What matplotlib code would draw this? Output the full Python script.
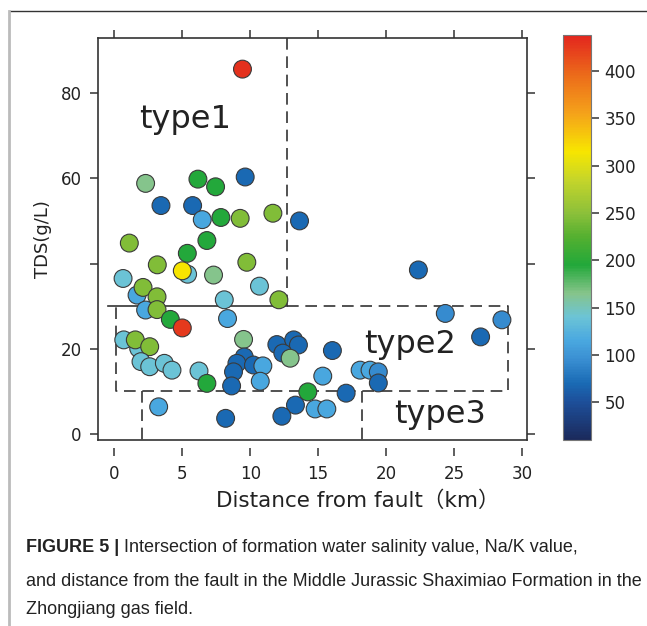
import numpy as np
import matplotlib
matplotlib.use("Agg")
import matplotlib.pyplot as plt
from matplotlib.colors import LinearSegmentedColormap, Normalize
from matplotlib.lines import Line2D

plt.rcParams['font.family'] = ['DejaVu Sans', 'Noto Sans CJK SC']

# distance from fault (km), TDS (g/L), Na/K value
dist = [9.43, 2.30, 6.15, 7.45, 9.63, 3.43, 5.76, 6.47, 7.84, 9.26,
        11.67, 13.63, 1.10, 6.81, 5.37, 3.16, 5.39, 5.00, 7.30, 9.75,
        0.64, 1.67, 2.11, 3.14, 10.68, 8.09, 12.11, 2.30, 3.14, 4.12,
        5.00, 8.33, 22.38,
        0.69, 1.79, 1.54, 2.60, 1.96, 2.60, 3.68, 4.24, 6.23, 6.81,
        9.51, 9.56, 9.02, 8.77, 8.63, 10.24, 10.93, 10.74, 11.96, 13.20,
        13.55, 12.40, 12.94, 16.05, 15.34, 18.09, 18.82, 19.43, 19.43, 24.36,
        28.53, 26.96,
        14.24, 17.06, 13.33, 12.33, 14.78, 15.64, 3.26, 8.19]
tds = [85.6, 58.8, 59.8, 58.0, 60.3, 53.6, 53.6, 50.3, 50.8, 50.6,
       51.8, 50.0, 44.8, 45.4, 42.4, 39.7, 37.5, 38.3, 37.3, 40.3,
       36.5, 32.6, 34.4, 32.2, 34.7, 31.5, 31.5, 29.1, 29.2, 26.9,
       24.9, 27.1, 38.5,
       22.1, 20.1, 22.1, 20.5, 17.0, 15.8, 16.6, 15.0, 14.8, 11.9,
       22.2, 18.1, 16.6, 14.6, 11.3, 16.2, 16.0, 12.4, 21.0, 22.1,
       20.9, 19.0, 17.8, 19.6, 13.6, 15.0, 15.0, 14.6, 12.0, 28.3,
       26.8, 22.8,
       9.9, 9.6, 6.8, 4.2, 5.9, 5.9, 6.4, 3.7]
nak = [430, 165, 195, 195, 70, 70, 70, 115, 195, 245,
       245, 70, 245, 195, 195, 245, 140, 315, 165, 245,
       140, 115, 245, 245, 140, 140, 245, 115, 245, 195,
       425, 115, 70,
       140, 140, 245, 245, 140, 140, 140, 140, 140, 195,
       165, 70, 70, 70, 70, 70, 115, 115, 70, 70,
       70, 70, 165, 70, 115, 115, 115, 92, 70, 92,
       92, 70,
       195, 70, 70, 70, 115, 115, 115, 70]

x_ticks = [0, 5, 10, 15, 20, 25, 30]
y_ticks = [0, 20, 40, 60, 80]
y_ticklabels = ['0', '20', '', '60', '80']
cb_ticks = [50, 100, 150, 200, 250, 300, 350, 400]

stops = [(10, '#1b2a5c'), (50, '#1d4f9a'), (70, '#1a6bb5'), (95, '#3a8fd2'),
         (115, '#4aa8e0'), (140, '#6cc4d6'), (165, '#86c48a'), (195, '#22a83a'),
         (225, '#55b030'), (250, '#8cc03a'), (285, '#c5d52a'), (315, '#f7e600'),
         (355, '#f5a31a'), (395, '#ec6d1a'), (438, '#e3261e')]
vmin, vmax = 10, 438
cmap = LinearSegmentedColormap.from_list(
    'nak', [((v - vmin) / (vmax - vmin), c) for v, c in stops])
norm = Normalize(vmin, vmax)

fig = plt.figure(figsize=(6.47, 6.26), dpi=100)
ax = fig.add_axes([0.152, 0.297, 0.662, 0.643])
cax = fig.add_axes([0.870, 0.297, 0.043, 0.647])

sc = ax.scatter(dist, tds, c=nak, cmap=cmap, norm=norm, s=165,
                edgecolors='#3a3a3a', linewidths=0.8, zorder=3)

ax.set_xlim(-1.18, 30.35)
ax.set_ylim(-1.4, 93.0)

# bottom ticks sit a little below the frame
ax.spines['bottom'].set_position(('outward', 6))
ax.spines['bottom'].set_visible(False)
ax.plot([0, 1], [0, 0], transform=ax.transAxes, color='#333333', lw=1.2,
        clip_on=False, zorder=5)
for s in ['left', 'right', 'top']:
    ax.spines[s].set_color('#333333')
    ax.spines[s].set_linewidth(1.2)

ax.set_xticks(x_ticks)
ax.set_yticks(y_ticks)
ax.set_yticklabels(y_ticklabels)
ax.tick_params(axis='both', direction='out', length=6, width=1.1,
               color='#333333', labelsize=12, labelcolor='#222222',
               top=True, right=True, pad=6)
ax.tick_params(axis='x', labeltop=False)
ax.tick_params(axis='y', labelright=False)

ax.set_xlabel('Distance from fault（km）', fontsize=15.5, color='#222222',
              labelpad=6)
ax.xaxis.set_label_coords(0.605, -0.125)
ax.set_ylabel('TDS(g/L)', fontsize=13, color='#222222', labelpad=6)

# zone outlines
lc = '#333333'
dash = dict(color=lc, lw=1.2, dashes=(7, 4), zorder=2)
ax.plot([12.7, 12.7], [93.0, 30.0], **dash)
ax.plot([-0.5, 12.7], [30.0, 30.0], color=lc, lw=1.2, zorder=2)
ax.plot([12.7, 29.0, 29.0, 0.15, 0.15], [30.0, 30.0, 10.2, 10.2, 30.0], **dash)
ax.plot([2.04, 2.04], [10.2, -1.4], **dash)
ax.plot([18.2, 18.2], [10.2, -1.4], **dash)

ax.text(5.2, 73.7, 'type1', fontsize=23, ha='center', va='center', color='#222222')
ax.text(21.8, 20.9, 'type2', fontsize=23, ha='center', va='center', color='#222222')
ax.text(24.0, 4.5, 'type3', fontsize=23, ha='center', va='center', color='#222222')

cb = fig.colorbar(sc, cax=cax, ticks=cb_ticks)
cb.outline.set_edgecolor('#777777')
cb.outline.set_linewidth(0.8)
cax.tick_params(direction='out', length=6, width=1.1, color='#333333',
                labelsize=12, labelcolor='#222222', pad=4)

# figure frame
fig.add_artist(Line2D([10 / 647, 1], [1 - 11 / 626, 1 - 11 / 626],
                      transform=fig.transFigure, color='#333333', lw=1))
fig.add_artist(Line2D([9 / 647, 9 / 647], [0, 1 - 11 / 626],
                      transform=fig.transFigure, color='#bbbbbb', lw=2))

# caption
cap = dict(fontsize=13, family=['Liberation Sans', 'DejaVu Sans'], color='#222222')
t = fig.text(26 / 647, 1 - 548 / 626, 'FIGURE 5 | ', fontweight='bold', va='center', **cap)
plt.annotate('Intersection of formation water salinity value, Na/K value,',
             xy=(1, 0.5), xycoords=t, va='center', **cap)
fig.text(26 / 647, 1 - 581 / 626,
         'and distance from the fault in the Middle Jurassic Shaximiao Formation in the',
         va='center', **cap)
fig.text(26 / 647, 1 - 610 / 626, 'Zhongjiang gas field.', va='center', **cap)

fig.savefig('out.png', dpi=100)
